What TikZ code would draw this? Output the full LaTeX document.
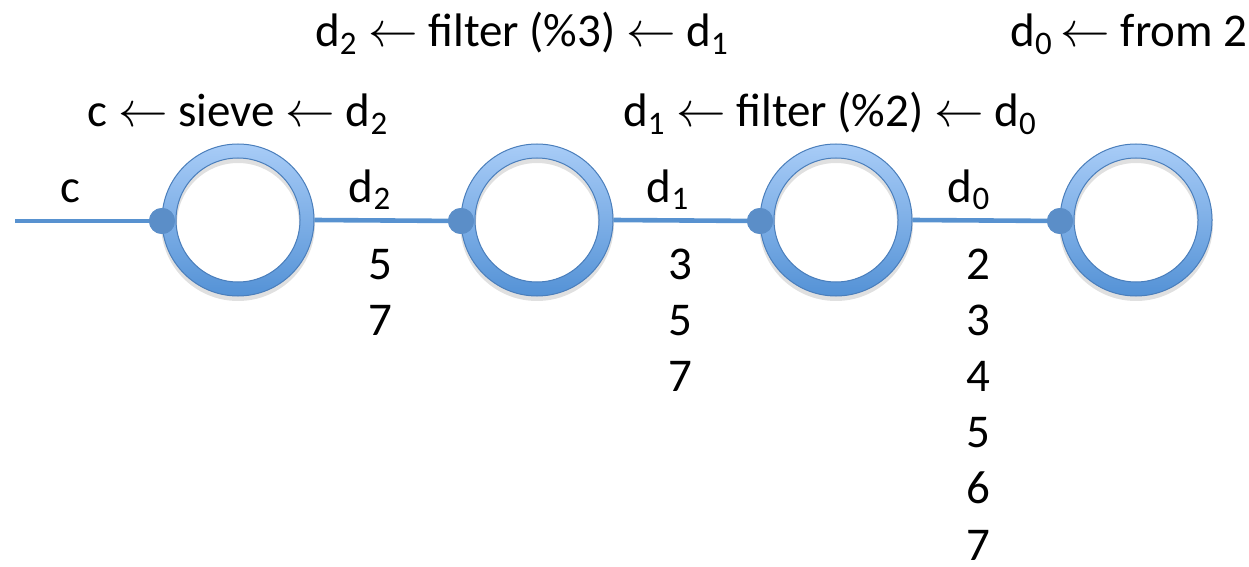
\documentclass[tikz,border=0pt]{standalone}
\usepackage{fontspec}
\setmainfont{Carlito}
\definecolor{ringtop}{RGB}{168,204,247}
\definecolor{ringbot}{RGB}{84,146,214}
\definecolor{ringedge}{RGB}{74,126,187}
\definecolor{dotblue}{RGB}{91,142,200}
\definecolor{wireblue}{RGB}{88,146,208}
\tikzset{
  ringbox/.style={circle, minimum size=76bp, inner sep=0pt},
  dotbox/.style={circle, fill=dotblue, minimum size=13bp, inner sep=0pt},
  wire/.style={wireblue, line width=2.3bp},
  lbl/.style={anchor=base, inner sep=0pt, font=\fontsize{23.5bp}{28bp}\selectfont},
}
\newcommand{\lar}{$\leftarrow$}
\begin{document}
\begin{tikzpicture}[x=0.5bp, y=-0.5bp]
        \useasboundingbox (0,0) rectangle (1249,567);

        % Anillos
        \foreach \i/\x in {1/238, 2/537, 3/836, 4/1136} {
            \node[ringbox] (ring\i) at (\x,220) {};
            \fill[black, opacity=0.12, even odd rule] ([yshift=-2bp]ring\i.center) circle[radius=38.5bp] ([yshift=-2bp]ring\i.center) circle[radius=30.5bp];
            \shade[top color=ringtop, bottom color=ringbot, even odd rule] (ring\i.center) circle[radius=38bp] (ring\i.center) circle[radius=31bp];
            \draw[ringedge, line width=0.5bp] (ring\i.center) circle[radius=38bp] (ring\i.center) circle[radius=31bp];
        }

        % Puntos de entrada
        \foreach \i in {1,...,4} {
            \node[dotbox] (dot\i) at ([xshift=-38bp, yshift=-0.5bp]ring\i.center) {};
        }

        % Canales
        \coordinate (start) at (15,221);
        \draw[wire] (start) -- (dot1.center);
        \draw[wire] (ring1.east) -- (dot2.center);
        \draw[wire] (ring2.east) -- (dot3.center);
        \draw[wire] (ring3.east) -- (dot4.center);
        \foreach \i in {1,...,4} {
            \node[dotbox] at (dot\i) {};
        }

        % Nombres de canales
        \node[lbl] (cname) at (70,202) {c};
        \node[lbl] (d2name) at (370,202) {d\textsubscript{2}};
        \node[lbl] (d1name) at (668,202) {d\textsubscript{1}};
        \node[lbl] (d0name) at (969,202) {d\textsubscript{0}};

        % Definiciones
        \node[lbl] (defc) at (238,127) {c \lar{} sieve \lar{} d\textsubscript{2}};
        \node[lbl] (defd2) at (522,47) {d\textsubscript{2} \lar{} filter (\%3) \lar{} d\textsubscript{1}};
        \node[lbl] (defd1) at (830,127) {d\textsubscript{1} \lar{} filter (\%2) \lar{} d\textsubscript{0}};
        \node[lbl] (defd0) at (1129,47) {d\textsubscript{0}\,\lar{} from 2};

        % Valores en cada canal
        \foreach \n [count=\k] in {5,7} {
            \node[lbl] (vtwo\n) at ({380},{279+56.2*(\k-1)}) {\n};
        }
        \foreach \n [count=\k] in {3,5,7} {
            \node[lbl] (vone\n) at ({680},{279+56.2*(\k-1)}) {\n};
        }
        \foreach \n [count=\k] in {2,...,7} {
            \node[lbl] (vzero\n) at ({978},{279+56.2*(\k-1)}) {\n};
        }
    \end{tikzpicture}
\end{document}
